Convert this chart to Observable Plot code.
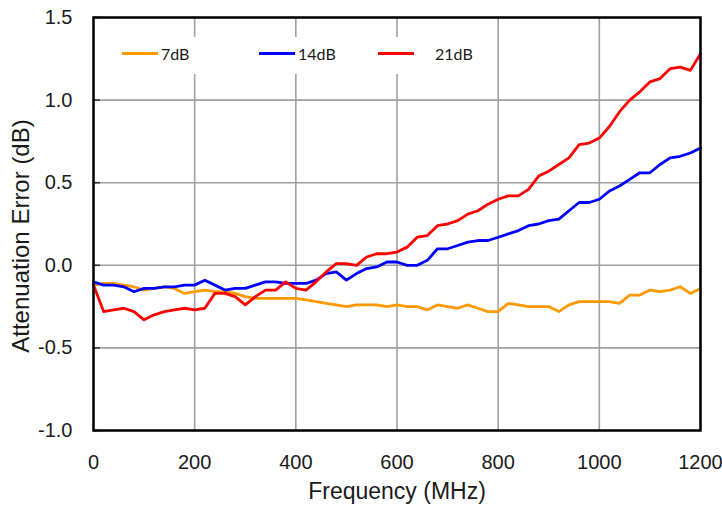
<!DOCTYPE html>
<html>
<head>
<meta charset="utf-8">
<script src="https://cdn.jsdelivr.net/npm/d3@7"></script>
<script src="https://cdn.jsdelivr.net/npm/@observablehq/plot@0.6"></script>
<style>
  html, body { margin: 0; padding: 0; background: #fff; }
  #wrap { position: relative; width: 722px; height: 514px; overflow: hidden; }
  #legend { position: absolute; left: 95px; top: 37px; width: 390px; height: 37px; background: #fff; }
  .swatch { position: absolute; top: 15px; height: 3px; width: 36px; }
  .lab { position: absolute; top: 7px; font-family: Lato, "Open Sans", sans-serif; font-size: 16px; color: #1a1a1a; white-space: nowrap; }
</style>
</head>
<body>
<div id="wrap"></div>
<script>
const freq = [0,20,40,60,80,100,120,140,160,180,200,220,240,260,280,300,320,340,360,380,400,420,440,460,480,500,520,540,560,580,600,620,640,660,680,700,720,740,760,780,800,820,840,860,880,900,920,940,960,980,1000,1020,1040,1060,1080,1100,1120,1140,1160,1180,1200];

const err7dB = [-0.12,-0.11,-0.11,-0.12,-0.13,-0.15,-0.14,-0.13,-0.14,-0.17,-0.16,-0.15,-0.16,-0.16,-0.17,-0.19,-0.20,-0.20,-0.20,-0.20,-0.20,-0.21,-0.22,-0.23,-0.24,-0.25,-0.24,-0.24,-0.24,-0.25,-0.24,-0.25,-0.25,-0.27,-0.24,-0.25,-0.26,-0.24,-0.26,-0.28,-0.28,-0.23,-0.24,-0.25,-0.25,-0.25,-0.28,-0.24,-0.22,-0.22,-0.22,-0.22,-0.23,-0.18,-0.18,-0.15,-0.16,-0.15,-0.13,-0.17,-0.14];

const err14dB = [-0.10,-0.12,-0.12,-0.13,-0.16,-0.14,-0.14,-0.13,-0.13,-0.12,-0.12,-0.09,-0.12,-0.15,-0.14,-0.14,-0.12,-0.10,-0.10,-0.11,-0.11,-0.11,-0.09,-0.05,-0.04,-0.09,-0.05,-0.02,-0.01,0.02,0.02,0.00,0.00,0.03,0.10,0.10,0.12,0.14,0.15,0.15,0.17,0.19,0.21,0.24,0.25,0.27,0.28,0.33,0.38,0.38,0.40,0.45,0.48,0.52,0.56,0.56,0.61,0.65,0.66,0.68,0.71];

const err21dB = [-0.12,-0.28,-0.27,-0.26,-0.28,-0.33,-0.30,-0.28,-0.27,-0.26,-0.27,-0.26,-0.17,-0.17,-0.19,-0.24,-0.19,-0.15,-0.15,-0.10,-0.14,-0.15,-0.10,-0.04,0.01,0.01,0.00,0.05,0.07,0.07,0.08,0.11,0.17,0.18,0.24,0.25,0.27,0.31,0.33,0.37,0.40,0.42,0.42,0.46,0.54,0.57,0.61,0.65,0.73,0.74,0.77,0.84,0.93,1.00,1.05,1.11,1.13,1.19,1.20,1.18,1.28];

const seriesNames = ["7dB", "14dB", "21dB"];
const seriesColors = ["#ff9900", "#0000ff", "#ff0000"];
const xTicks = [0, 200, 400, 600, 800, 1000, 1200];
const yTicks = [-1.0, -0.5, 0.0, 0.5, 1.0, 1.5];
const xTitle = "Frequency (MHz)";
const yTitle = "Attenuation Error (dB)";

const allSeries = [err7dB, err14dB, err21dB];
const rows = [];
allSeries.forEach((vals, si) => {
  vals.forEach((v, i) => rows.push({f: freq[i], v, s: seriesNames[si]}));
});

const chart = Plot.plot({
  width: 722,
  height: 514,
  marginLeft: 93,
  marginRight: 22,
  marginTop: 17,
  marginBottom: 84,
  style: {fontFamily: "'Liberation Sans', Arial, sans-serif", fontSize: "20px", color: "#1a1a1a", background: "#fff"},
  x: {domain: [0, 1200]},
  y: {domain: [-1, 1.5]},
  color: {domain: seriesNames, range: seriesColors},
  marks: [
    Plot.gridX(xTicks, {stroke: "#a0a0a0", strokeOpacity: 1, strokeWidth: 1.6}),
    Plot.gridY(yTicks, {stroke: "#a0a0a0", strokeOpacity: 1, strokeWidth: 1.6}),
    Plot.tickY(yTicks, {y: d => d, stroke: "#333", strokeWidth: 1.6, insetRight: 600}),
    Plot.line(rows, {x: "f", y: "v", z: "s", stroke: "s", strokeWidth: 2.8, strokeLinejoin: "round"}),
    Plot.frame({stroke: "#000", strokeWidth: 2.5}),
    Plot.axisX(xTicks, {tickSize: 0, tickPadding: 24, tickFormat: d => String(d), label: null, fontSize: 20}),
    Plot.axisY(yTicks, {tickSize: 0, tickPadding: 21, tickFormat: d => d.toFixed(1), label: null, fontSize: 20}),
    Plot.text([xTitle], {text: d => d, frameAnchor: "bottom", textAnchor: "middle", dy: 61, fontSize: 23, lineAnchor: "middle"}),
    Plot.text([yTitle], {text: d => d, frameAnchor: "left", textAnchor: "middle", dx: -72, dy: 12, rotate: -90, fontSize: 24, lineAnchor: "middle"})
  ]
});

const wrap = document.getElementById("wrap");
wrap.appendChild(chart);

const legend = document.createElement("div");
legend.id = "legend";
const legendPos = [[27, 66], [164, 203], [283, 340]];
seriesNames.forEach((name, i) => {
  const sw = document.createElement("div");
  sw.className = "swatch";
  sw.style.left = legendPos[i][0] + "px";
  sw.style.background = seriesColors[i];
  legend.appendChild(sw);
  const lb = document.createElement("div");
  lb.className = "lab";
  lb.style.left = legendPos[i][1] + "px";
  lb.textContent = name;
  legend.appendChild(lb);
});
wrap.appendChild(legend);
</script>
</body>
</html>
